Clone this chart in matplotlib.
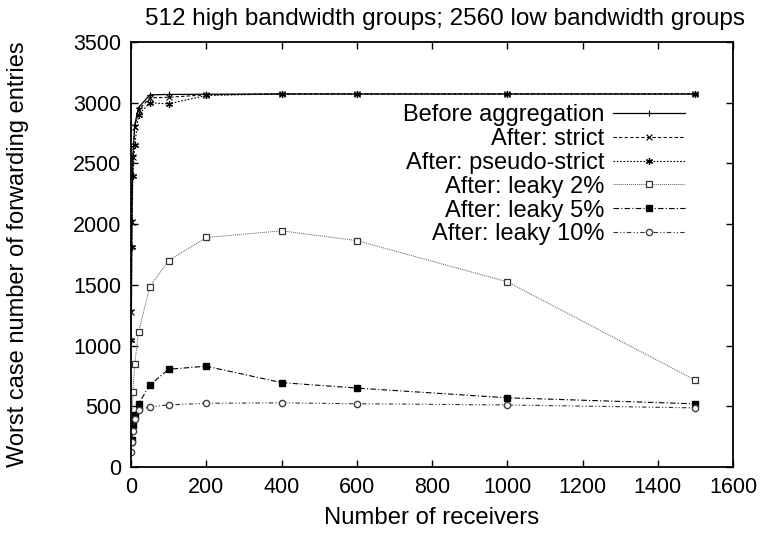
import matplotlib
matplotlib.use("Agg")
import matplotlib.pyplot as plt

plt.rcParams['font.family'] = ['Liberation Sans', 'DejaVu Sans']

receivers = [1, 2, 5, 10, 20, 50, 100, 200, 400, 600, 1000, 1500]

before = [1290, 2030, 2560, 2820, 2960, 3065, 3068, 3070, 3072, 3072, 3072, 3072]
strict = [1280, 2020, 2550, 2800, 2940, 3040, 3045, 3065, 3072, 3072, 3072, 3072]
pseudo = [1050, 1810, 2400, 2650, 2900, 3000, 2990, 3060, 3072, 3072, 3072, 3072]
leaky2 = [220, 354, 615, 850, 1110, 1485, 1700, 1890, 1945, 1865, 1525, 715]
leaky5 = [210, 225, 350, 425, 520, 675, 805, 830, 695, 650, 570, 520]
leaky10 = [126, 208, 299, 398, 467, 497, 511, 525, 528, 521, 511, 487]

labels = ["Before aggregation", "After: strict", "After: pseudo-strict",
          "After: leaky 2%", "After: leaky 5%", "After: leaky 10%"]

fig = plt.figure(figsize=(7.65, 5.35), dpi=100)
ax = fig.add_axes([131 / 765, 68 / 535, 602 / 765, 425 / 535])

ax.plot(receivers, before, color="black", lw=0.9, ls="-", marker="+", ms=5, mew=0.8, label=labels[0])
ax.plot(receivers, strict, color="black", lw=0.8, ls=(0, (3, 2)), marker="x", ms=4, mew=0.8, label=labels[1])
ax.plot(receivers, pseudo, color="black", lw=0.8, ls=(0, (1.5, 1.5)), marker=(6, 2, 0), ms=5, mew=0.9, label=labels[2])
ax.plot(receivers, leaky2, color="0.35", lw=0.7, ls=(0, (1, 1)), marker="s", ms=5, mfc="white", mec="0.2", mew=0.9, label=labels[3])
ax.plot(receivers, leaky5, color="black", lw=0.8, ls=(0, (5, 2, 1, 2)), marker="s", ms=5, mfc="black", mec="black", label=labels[4])
ax.plot(receivers, leaky10, color="0.2", lw=0.8, ls=(0, (4, 2, 1, 2, 1, 2)), marker="o", ms=4.5, mfc="white", mec="0.25", mew=1.0, label=labels[5])

ax.set_xlim(0, 1600)
ax.set_ylim(0, 3500)
ax.set_xticks(range(0, 1601, 200))
ax.set_yticks(range(0, 3501, 500))
ax.tick_params(direction="in", top=True, right=True, length=5, width=1, labelsize=15.5, pad=7)
for s in ax.spines.values():
    s.set_linewidth(1.3)

ax.set_xlabel("Number of receivers", fontsize=17.2)
ax.xaxis.set_label_coords(0.5, -0.095)
ax.set_ylabel("Worst case number of forwarding entries", fontsize=17)
ax.yaxis.set_label_coords(-0.17, 0.5)
fig.text(445 / 765, 1 - 19 / 535, "512 high bandwidth groups; 2560 low bandwidth groups",
         fontsize=17.5, ha="center", va="center")

leg = ax.legend(loc="upper right", bbox_to_anchor=(685 / 765, 1 - 104 / 535),
                bbox_transform=fig.transFigure, frameon=False, markerfirst=False,
                fontsize=17, handlelength=3.05, handletextpad=0.38, labelspacing=0.08,
                borderpad=0, borderaxespad=0)

fig.savefig("out.png", dpi=100)
